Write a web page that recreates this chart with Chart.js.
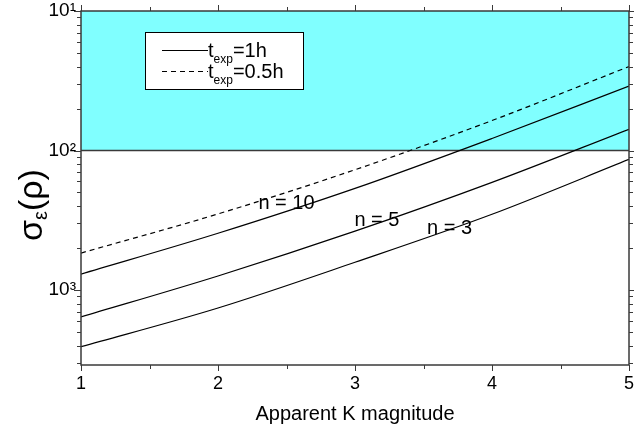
<!DOCTYPE html>
<html>
<head>
<meta charset="utf-8">
<script src="https://cdn.jsdelivr.net/npm/chart.js@4"></script>
<style>
  html, body { margin: 0; padding: 0; background: #fff; }
  #wrap { width: 634px; height: 430px; }
</style>
</head>
<body>
<div id="wrap"><canvas id="chart" width="634" height="430"></canvas></div>
<script>
// Erreur sigma_eps(rho) en fonction de la magnitude K apparente
const magnitudes = [1, 2, 3, 4, 5];
const sigmaN10Half = [1.84e-3, 3.51e-3, 7.28e-3, 1.64e-2, 4.00e-2]; // t_exp = 0.5h, n = 10
const sigmaN10 = [1.30e-3, 2.55e-3, 5.35e-3, 1.22e-2, 2.90e-2];
const sigmaN5 = [6.41e-4, 1.26e-3, 2.64e-3, 5.91e-3, 1.42e-2];
const sigmaN3 = [3.92e-4, 7.43e-4, 1.58e-3, 3.49e-3, 8.63e-3];

const xTicks = [1, 2, 3, 4, 5];
const xMinorTicks = [1.5, 2.5, 3.5, 4.5];
const yTicks = [0.1, 0.01, 0.001];
const yTickLabels = ['10¹', '10²', '10³'];
const shadedBand = [0.01, 0.1];

const curveLabels = ['n = 10', 'n = 5', 'n = 3'];
const curveLabelX = [2.5, 3.16, 3.69];
const curveLabelY = [4.18e-3, 3.16e-3, 2.77e-3];

const FRAME = '#3a3a3a';
const FONT = 'Arial, "Liberation Sans", sans-serif';

const bandPlugin = {
    id: 'band',
    beforeDatasetsDraw(chart) {
        const { ctx, chartArea, scales: { y } } = chart;
        const top = y.getPixelForValue(shadedBand[1]);
        const bottom = y.getPixelForValue(shadedBand[0]);
        ctx.save();
        ctx.fillStyle = '#80ffff';
        ctx.fillRect(chartArea.left, top, chartArea.right - chartArea.left, bottom - top);
        ctx.strokeStyle = FRAME;
        ctx.lineWidth = 1.5;
        ctx.beginPath();
        ctx.moveTo(chartArea.left, bottom);
        ctx.lineTo(chartArea.right, bottom);
        ctx.stroke();
        ctx.restore();
    },
};

// Cadre + graduations sur les quatre côtés (vers l'extérieur)
const framePlugin = {
    id: 'frame',
    afterDatasetsDraw(chart) {
        const { ctx, chartArea: a, scales: { x, y } } = chart;
        ctx.save();
        ctx.strokeStyle = FRAME;
        ctx.lineWidth = 1.5;
        ctx.strokeRect(a.left, a.top, a.right - a.left, a.bottom - a.top);
        ctx.lineWidth = 1;
        ctx.beginPath();
        const xTick = (v, len) => {
            const px = Math.round(x.getPixelForValue(v)) + 0.5;
            ctx.moveTo(px, a.bottom); ctx.lineTo(px, a.bottom + len);
            ctx.moveTo(px, a.top); ctx.lineTo(px, a.top - len);
        };
        xTicks.forEach((v) => xTick(v, 6));
        xMinorTicks.forEach((v) => xTick(v, 4));
        for (let e = -4; e <= -1; e++) {
            for (let m = 1; m <= 9; m++) {
                const v = m * Math.pow(10, e);
                if (v < y.min || v > y.max * 1.0001) continue;
                const py = Math.round(y.getPixelForValue(v)) + 0.5;
                const len = m === 1 ? 7 : 4;
                ctx.moveTo(a.left, py); ctx.lineTo(a.left - len, py);
                ctx.moveTo(a.right, py); ctx.lineTo(a.right + len, py);
            }
        }
        ctx.stroke();
        ctx.restore();
    },
    afterDraw(chart) {
        const { ctx, scales: { x, y } } = chart;
        ctx.save();
        ctx.fillStyle = '#000';

        // étiquettes des courbes
        ctx.font = `20px ${FONT}`;
        ctx.textAlign = 'center';
        ctx.textBaseline = 'middle';
        curveLabels.forEach((txt, i) => {
            ctx.fillText(txt, x.getPixelForValue(curveLabelX[i]), y.getPixelForValue(curveLabelY[i]));
        });

        // légende
        ctx.fillStyle = '#fff';
        ctx.fillRect(145, 32, 158, 57);
        ctx.strokeStyle = '#000';
        ctx.lineWidth = 1;
        ctx.strokeRect(145.5, 32.5, 158, 57);
        const rows = [
            { dash: [], label: '=1h', y: 50 },
            { dash: [5, 4], label: '=0.5h', y: 71 },
        ];
        ctx.textAlign = 'left';
        ctx.textBaseline = 'alphabetic';
        rows.forEach((r) => {
            ctx.setLineDash(r.dash);
            ctx.strokeStyle = '#000';
            ctx.beginPath();
            ctx.moveTo(162, r.y + 0.5);
            ctx.lineTo(208, r.y + 0.5);
            ctx.stroke();
            ctx.setLineDash([]);
            ctx.fillStyle = '#000';
            ctx.font = `20px ${FONT}`;
            ctx.fillText('t', 208, r.y + 7);
            const tw = ctx.measureText('t').width;
            ctx.font = `12px ${FONT}`;
            ctx.fillText('exp', 208 + tw, r.y + 13);
            const ew = ctx.measureText('exp').width;
            ctx.font = `20px ${FONT}`;
            ctx.fillText(r.label, 208 + tw + ew, r.y + 7);
        });

        // titre de l'axe Y : sigma_eps(rho)
        ctx.translate(33, 205);
        ctx.rotate(-Math.PI / 2);
        ctx.textBaseline = 'middle';
        const big = `34px ${FONT}`;
        const small = `20px ${FONT}`;
        ctx.font = big;
        const w1 = ctx.measureText('σ').width;
        const w3 = ctx.measureText('(ρ)').width;
        ctx.font = small;
        const w2 = ctx.measureText('ε').width;
        let cx = -(w1 + w2 + w3) / 2;
        ctx.font = big;
        ctx.fillText('σ', cx, 0);
        cx += w1;
        ctx.font = small;
        ctx.fillText('ε', cx, 8);
        cx += w2;
        ctx.font = big;
        ctx.fillText('(ρ)', cx, 0);
        ctx.restore();
    },
};

const lineStyle = { borderColor: '#000', borderWidth: 1.2, pointRadius: 0, fill: false, cubicInterpolationMode: 'monotone' };

new Chart(document.getElementById('chart'), {
    type: 'line',
    data: {
        labels: magnitudes,
        datasets: [
            { label: 't_exp=0.5h n=10', data: sigmaN10Half, borderDash: [5, 4], ...lineStyle },
            { label: 't_exp=1h n=10', data: sigmaN10, ...lineStyle },
            { label: 't_exp=1h n=5', data: sigmaN5, ...lineStyle },
            { label: 't_exp=1h n=3', data: sigmaN3, ...lineStyle },
        ],
    },
    options: {
        responsive: false,
        animation: false,
        devicePixelRatio: 1,
        layout: { padding: { top: 11, right: 5, left: 0, bottom: 0 } },
        plugins: { legend: { display: false }, tooltip: { enabled: false } },
        scales: {
            x: {
                type: 'linear',
                min: 1,
                max: 5,
                afterBuildTicks: (s) => { s.ticks = xTicks.map((v) => ({ value: v })); },
                afterFit: (s) => { s.height = 65; s.paddingLeft = 0; s.paddingRight = 0; },
                grid: { display: false, drawTicks: false },
                border: { display: false },
                ticks: { color: '#000', font: { size: 18, family: FONT }, padding: 8, maxRotation: 0 },
                title: { display: true, text: 'Apparent K magnitude', color: '#000', font: { size: 20, family: FONT }, padding: { top: 5 } },
            },
            y: {
                type: 'logarithmic',
                min: 2.9e-4,
                max: 0.1,
                afterBuildTicks: (s) => { s.ticks = yTicks.map((v) => ({ value: v })); },
                afterFit: (s) => { s.width = 81; s.paddingTop = 0; s.paddingBottom = 0; },
                grid: { display: false, drawTicks: false },
                border: { display: false },
                ticks: {
                    color: '#000',
                    font: { size: 19, family: FONT },
                    padding: 5,
                    callback: (value, index) => yTickLabels[index],
                },
            },
        },
    },
    plugins: [bandPlugin, framePlugin],
});
</script>
</body>
</html>
